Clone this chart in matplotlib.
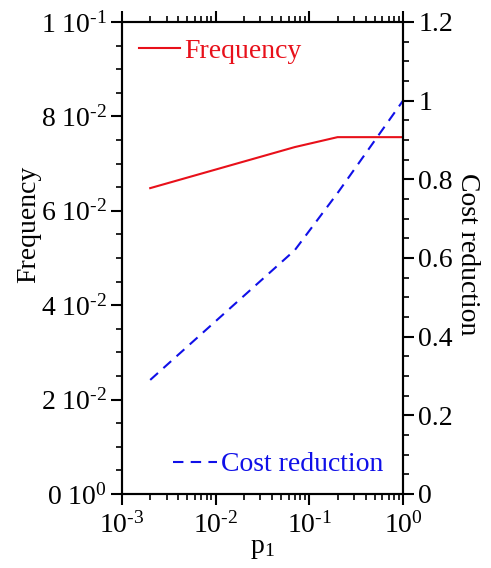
import matplotlib
matplotlib.use("Agg")
import matplotlib.pyplot as plt
from matplotlib.ticker import FixedLocator, FixedFormatter, MultipleLocator, LogLocator, NullFormatter

plt.rcParams['font.family'] = ['Liberation Serif', 'DejaVu Serif']
plt.rcParams['mathtext.fontset'] = 'custom'
plt.rcParams['mathtext.rm'] = 'Liberation Serif'
plt.rcParams['mathtext.it'] = 'Liberation Serif'

# data
p1 = [0.002, 0.07, 0.2, 1.0]
frequency = [0.0648, 0.0735, 0.0756, 0.0756]
cost_reduction = [0.29, 0.62, 0.765, 1.0]

freq_ticks = [0, 0.02, 0.04, 0.06, 0.08, 0.1]
freq_labels = [r'0 10$^{\text{0}}$', r'2 10$^{\text{-2}}$', r'4 10$^{\text{-2}}$',
               r'6 10$^{\text{-2}}$', r'8 10$^{\text{-2}}$', r'1 10$^{\text{-1}}$']
x_ticks = [1e-3, 1e-2, 1e-1, 1e0]
x_labels = [r'10$^{\text{-3}}$', r'10$^{\text{-2}}$', r'10$^{\text{-1}}$', r'10$^{\text{0}}$']
cost_ticks = [0, 0.2, 0.4, 0.6, 0.8, 1.0, 1.2]
cost_labels = ['0', '0.2', '0.4', '0.6', '0.8', '1', '1.2']

fig = plt.figure(figsize=(4.91, 5.68), dpi=100)
ax = fig.add_axes([0.2485, 0.1303, 0.5723, 0.831])
ax2 = ax.twinx()

l1, = ax.plot(p1, frequency, color='#e8101a', lw=1.5, label='Frequency')
l2, = ax2.plot(p1, cost_reduction, color='#1010e8', lw=1.5, ls=(0, (5, 3.5)), label='Cost reduction')

ax.set_xscale('log')
ax.set_xlim(1e-3, 1)
ax.set_ylim(0, 0.1)
ax2.set_ylim(0, 1.2)

ax.xaxis.set_major_locator(FixedLocator(x_ticks))
ax.xaxis.set_major_formatter(FixedFormatter(x_labels))
ax.xaxis.set_minor_locator(LogLocator(base=10, subs=range(2, 10), numticks=20))
ax.xaxis.set_minor_formatter(NullFormatter())
ax.yaxis.set_major_locator(FixedLocator(freq_ticks))
ax.yaxis.set_major_formatter(FixedFormatter(freq_labels))
ax.yaxis.set_minor_locator(MultipleLocator(0.005))
ax2.yaxis.set_major_locator(FixedLocator(cost_ticks))
ax2.yaxis.set_major_formatter(FixedFormatter(cost_labels))
ax2.yaxis.set_minor_locator(MultipleLocator(0.05))

fs = 20
for a in (ax, ax2):
    for s in a.spines.values():
        s.set_linewidth(1.5)
    a.tick_params(which='major', direction='out', length=8, width=1.5, labelsize=fs, pad=3)
    a.tick_params(which='minor', direction='out', length=4, width=1.2)
ax.tick_params(axis='x', which='both', top=True)
ax.tick_params(axis='x', which='major', pad=5)

ax.set_xlabel('p$_{1}$', fontsize=fs, labelpad=-2)
ax.set_ylabel('Frequency', fontsize=fs, va='center', ha='center')
ax.yaxis.set_label_coords(-0.331, 0.572)
ax2.set_ylabel('Cost reduction', fontsize=fs, rotation=-90, va='center', ha='center')
ax2.yaxis.set_label_coords(1.228, 0.508)

leg1 = ax.legend(handles=[l1], loc='upper left', frameon=False, fontsize=fs,
                 handlelength=1.5, handletextpad=0.15, borderaxespad=0.2,
                 bbox_to_anchor=(0.0, 1.0))
for t in leg1.get_texts():
    t.set_color('#e8101a')
leg2 = ax2.legend(handles=[l2], loc='lower right', frameon=False, fontsize=fs,
                  handlelength=1.6, handletextpad=0.15, borderaxespad=0.2,
                  bbox_to_anchor=(0.99, 0.0))
for t in leg2.get_texts():
    t.set_color('#1010e8')

fig.savefig('out.png', dpi=100)
